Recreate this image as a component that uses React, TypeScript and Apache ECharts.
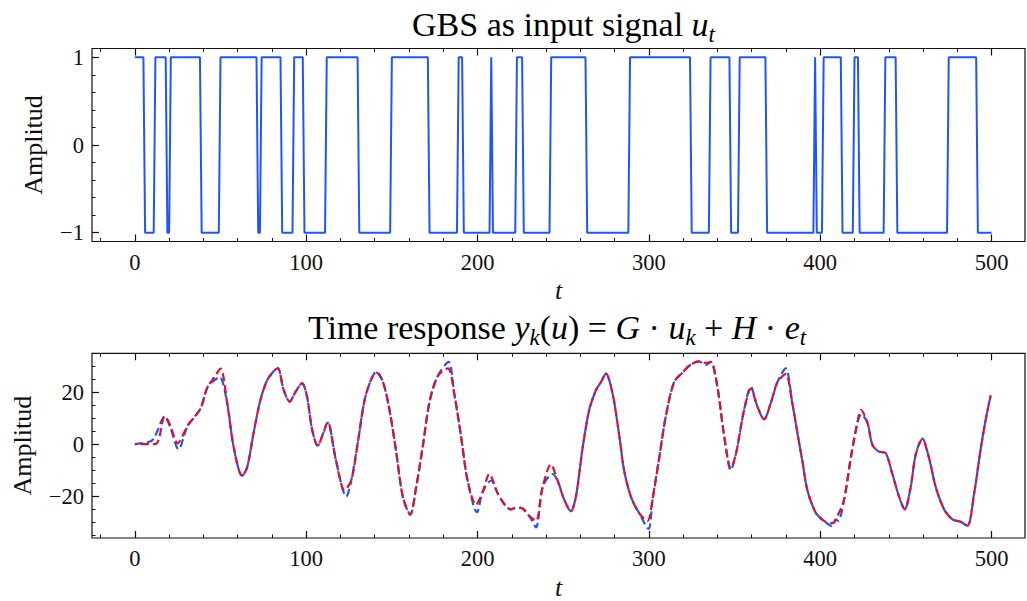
import React, { useEffect, useRef } from "react";
import * as echarts from "echarts";

// ---------- data ----------
// GBS input signal: vertices of the polyline (t, u)
const gbsT = [0, 5, 6, 11, 12, 18, 19, 20, 21, 38, 39, 49, 50, 71, 72, 73, 74, 85, 86, 92, 93, 98, 99, 111, 112, 130, 131, 149, 150, 171, 172, 188, 189, 191, 192, 207, 208, 209, 222, 223, 226, 227, 242, 243, 263, 264, 288, 289, 324, 325, 335, 336, 347, 348, 352, 353, 368, 369, 396, 397, 398, 401, 402, 412, 413, 419, 420, 422, 423, 437, 438, 444, 445, 474, 475, 491, 492, 500];
const gbsU = [1, 1, -1, -1, 1, 1, -1, -1, 1, 1, -1, -1, 1, 1, -1, -1, 1, 1, -1, -1, 1, 1, -1, -1, 1, 1, -1, -1, 1, 1, -1, -1, 1, 1, -1, -1, 1, -1, -1, 1, 1, -1, -1, 1, 1, -1, -1, 1, 1, -1, -1, 1, 1, -1, -1, 1, 1, -1, -1, 1, -1, -1, 1, 1, -1, -1, 1, 1, -1, -1, 1, 1, -1, -1, 1, 1, -1, -1];

// Time response, red dashed curve
const redT = [0, 12, 17.5, 20.4, 25, 30.8, 34.6, 38.5, 42.4, 46.3, 50, 53.9, 57.8, 62.6, 65.5, 69.4, 73.3, 77.2, 81.1, 83.4, 86.9, 90.4, 93.7, 97.6, 100.5, 103.4, 106.7, 110.2, 112.5, 113.7, 117.5, 122.4, 126.3, 130.2, 134.1, 138, 140.9, 144.7, 148.6, 152.5, 156.4, 160.7, 164.2, 168.1, 172, 176.8, 182.7, 186.4, 190.3, 194.2, 199.1, 203, 206.9, 211.8, 216.6, 219.5, 222, 225.4, 230.2, 234.1, 238, 242.8, 246.7, 250.6, 254.5, 257.4, 261.3, 265.2, 269.1, 272, 274.9, 278.8, 282.7, 285.6, 289.5, 294.3, 299.2, 302.1, 306, 309.9, 314.7, 319.6, 324.5, 329.3, 333.2, 336.1, 340, 343.9, 347.8, 350.7, 355.6, 359.5, 363.3, 367.2, 371.1, 375, 379.8, 383.7, 387, 389.6, 392.5, 397.4, 402.2, 407.1, 410, 413.9, 417.8, 421.7, 423.7, 427.5, 430.5, 434.3, 438.2, 442.1, 446, 449.3, 452.8, 455.7, 459.6, 463.5, 467.4, 472.3, 477.1, 482, 485.9, 489.8, 493.7, 496.6, 499.5];
const redY = [0, 0, 10.8, 7.6, 0.3, 7.1, 10.2, 13.9, 21.9, 25.6, 29, 15.7, -1.6, -12.2, -9, 4.6, 17, 24.5, 28.1, 29.1, 20.7, 16.3, 20, 23.4, 18.2, 5.8, -0.6, 4.6, 8.3, 7.1, -6.6, -17.7, -14, 0.9, 17, 25, 27.5, 24.1, 13.2, -2.9, -20.2, -27, -16.5, -0.6, 16.3, 26.2, 29.1, 19.4, 3.3, -14, -23.3, -18.4, -11.5, -19, -23.9, -25.1, -24.5, -24.5, -27.7, -29.5, -16.5, -7.8, -14, -21.4, -25.8, -20.2, -1.6, 13.2, 20.7, 23.8, 27.1, 19.4, 3.3, -10.3, -20.2, -26.5, -29.5, -21.4, -5.4, 10.8, 23.8, 27.5, 30.6, 31.8, 31.2, 31.6, 21.9, 3.3, -9.1, -4.1, 13.2, 21.3, 14.5, 9.5, 15.7, 23.8, 26.9, 15.7, 3, -6.6, -17.7, -26.4, -29.5, -30.4, -27.7, -21.4, -5.4, 8.3, 13.2, 8.3, -0.4, -2.9, -3.5, -11.5, -20.2, -25.1, -16.5, -4.1, 1.9, -5.4, -16.5, -25.1, -28.9, -29.9, -31.4, -19, -1.6, 9.5, 18.8];

// Time response, blue dashed curve
const blueT = [0, 8, 11, 17.5, 20.4, 25.5, 30.8, 34.6, 38.5, 42.4, 46.3, 49.5, 53.9, 57.8, 62.6, 65.5, 69.4, 73.3, 77.2, 81.1, 83.4, 86.9, 90.4, 93.7, 97.6, 100.5, 103.4, 106.7, 110.2, 112.5, 113.7, 117.5, 123.4, 126.3, 130.2, 134.1, 138, 140.9, 144.7, 148.6, 152.5, 156.4, 160.7, 164.2, 168.1, 172, 176.8, 183.1, 186.4, 190.3, 194.2, 199.7, 203, 207.9, 211.8, 216.6, 219.5, 222, 225.4, 230.2, 234.1, 238, 243.8, 246.7, 250.6, 254.5, 257.4, 261.3, 265.2, 269.1, 272, 274.9, 278.8, 282.7, 285.6, 289.5, 294.3, 299.8, 302.1, 306, 309.9, 314.7, 319.6, 324.5, 329.3, 333.2, 336.1, 340, 343.9, 347.8, 350.7, 355.6, 359.5, 363.3, 367.2, 371.1, 375, 379.8, 383.7, 387, 389.6, 392.5, 397.4, 402.2, 407.1, 409, 410.5, 413.9, 417.8, 421.7, 424, 427.5, 430.5, 434.3, 438.2, 442.1, 446, 449.3, 452.8, 455.7, 459.6, 463.5, 467.4, 472.3, 477.1, 482, 485.9, 489.8, 493.7, 496.6, 499.5];
const blueY = [0, 0.8, 2, 10.5, 7, -2, 7.1, 10.2, 13.9, 21.9, 24.5, 25.8, 15.7, -1.6, -12.2, -9, 4.6, 17, 24.5, 28.1, 29.3, 20.7, 16.3, 20, 23.4, 18.2, 5.8, -0.6, 4.6, 8.3, 7.1, -6.6, -20.2, -14, 0.9, 17, 25, 27.8, 24.1, 13.2, -2.9, -20.2, -27.2, -16.5, -0.6, 16.3, 26.2, 31.6, 19.4, 3.3, -14, -26.2, -18.4, -14, -19, -23.9, -25.1, -24.5, -24.5, -27.7, -32, -16.5, -11.5, -14, -21.4, -25.8, -20.2, -1.6, 13.2, 20.7, 23.8, 27.1, 19.4, 3.3, -10.3, -20.2, -26.5, -32.6, -21.4, -5.4, 10.8, 23.8, 27.5, 30.6, 31.8, 30.4, 31.6, 21.9, 3.3, -10, -4.1, 13.2, 22, 14.5, 9.5, 15.7, 23.8, 29.1, 15.7, 3, -6.6, -17.7, -26.4, -29.5, -31.6, -29, -29.5, -21.4, -5.4, 8.3, 11.4, 8.3, -0.4, -2.9, -3.5, -11.5, -20.2, -25.1, -16.5, -4.1, 2.2, -5.4, -16.5, -25.1, -28.9, -29.9, -31.4, -19, -1.6, 9.5, 18.8];

// tick values
const xMajor = [0, 100, 200, 300, 400, 500];
const xMinor = [-20, 20, 40, 60, 80, 120, 140, 160, 180, 220, 240, 260, 280, 320, 340, 360, 380, 420, 440, 460, 480];
const uMajor = [-1, 0, 1];
const uMinor = [-0.8, -0.6, -0.4, -0.2, 0.2, 0.4, 0.6, 0.8];
const yMajor = [-20, 0, 20];
const yMinor = [-35, -30, -25, -15, -10, -5, 5, 10, 15, 25, 30];

const FONT = "'Liberation Serif', 'DejaVu Serif', serif";
const BLUE = "#1f55ff";
const RED = "#e01030";
const INK = "#111";

const fmt = (v: number) => (v < 0 ? "\u2212" + Math.abs(v) : String(v));

function xAxesFor(grid: number, nameGap: number) {
  const base = {
    type: "value",
    gridIndex: grid,
    min: -25,
    max: 519.5,
    splitLine: { show: false },
    axisLine: { show: false, onZero: false },
  };
  return [
    {
      ...base,
      position: "bottom",
      axisTick: { show: true, inside: true, length: 7, customValues: xMajor, lineStyle: { color: INK, width: 1.2 } },
      axisLabel: { show: true, customValues: xMajor, margin: 9, fontSize: 22.5, fontFamily: FONT, color: INK, formatter: fmt },
      name: "t",
      nameLocation: "middle",
      nameGap,
      nameTextStyle: { fontFamily: FONT, fontStyle: "italic", fontSize: 26, color: INK },
    },
    {
      ...base,
      position: "bottom",
      axisTick: { show: true, inside: true, length: 3.5, customValues: xMinor, lineStyle: { color: INK, width: 1 } },
      axisLabel: { show: false },
    },
    {
      ...base,
      position: "top",
      axisTick: { show: true, inside: true, length: 7, customValues: xMajor, lineStyle: { color: INK, width: 1.2 } },
      axisLabel: { show: false },
    },
    {
      ...base,
      position: "top",
      axisTick: { show: true, inside: true, length: 3.5, customValues: xMinor, lineStyle: { color: INK, width: 1 } },
      axisLabel: { show: false },
    },
  ];
}

function yAxesFor(grid: number, min: number, max: number, major: number[], minor: number[], nameGap: number) {
  const base = {
    type: "value",
    gridIndex: grid,
    min,
    max,
    position: "left",
    splitLine: { show: false },
    axisLine: { show: false, onZero: false },
  };
  return [
    {
      ...base,
      axisTick: { show: true, inside: true, length: 7, customValues: major, lineStyle: { color: INK, width: 1.2 } },
      axisLabel: { show: true, customValues: major, margin: 8, fontSize: 22.5, fontFamily: FONT, color: INK, formatter: fmt },
      name: "Amplitud",
      nameLocation: "middle",
      nameGap,
      nameTextStyle: { fontFamily: FONT, fontSize: 26, color: INK },
    },
    {
      ...base,
      axisTick: { show: true, inside: true, length: 3.5, customValues: minor, lineStyle: { color: INK, width: 1 } },
      axisLabel: { show: false },
    },
  ];
}

const titleRich = {
  n: { fontFamily: FONT, fontSize: 34, color: INK, lineHeight: 44 },
  it: { fontFamily: FONT, fontSize: 34, fontStyle: "italic", color: INK, lineHeight: 44 },
  sub: { fontFamily: FONT, fontSize: 23, fontStyle: "italic", color: INK, lineHeight: 23, verticalAlign: "bottom" },
};

export default function App() {
  const ref = useRef<HTMLDivElement>(null);

  useEffect(() => {
    document.body.style.margin = "0";
    if (!ref.current) return;
    const chart = echarts.init(ref.current, undefined, { renderer: "svg" });

    const gbsData = gbsT.map((t, i) => [t, gbsU[i]]);
    const redData = redT.map((t, i) => [t, redY[i]]);
    const blueData = blueT.map((t, i) => [t, blueY[i]]);

    chart.setOption({
      animation: false,
      backgroundColor: "#fff",
      grid: [
        { left: 92, top: 48.5, width: 933, height: 193, show: true, borderColor: INK, borderWidth: 1.2, backgroundColor: "transparent" },
        { left: 92, top: 353.3, width: 933, height: 191, show: true, borderColor: INK, borderWidth: 1.2, backgroundColor: "transparent" },
      ],
      xAxis: [...xAxesFor(0, 36), ...xAxesFor(1, 36)],
      yAxis: [
        ...yAxesFor(0, -1.1, 1.1, uMajor, uMinor, 46),
        ...yAxesFor(1, -36.1, 34.9, yMajor, yMinor, 57),
      ],
      graphic: [
        {
          type: "text",
          x: 563.5,
          y: 24,
          style: {
            text: "{n|GBS as input signal }{it|u}{sub|t}",
            rich: titleRich,
            align: "center",
            verticalAlign: "middle",
          },
        },
        {
          type: "text",
          x: 557,
          y: 327,
          style: {
            text: "{n|Time response }{it|y}{sub|k}{n|(}{it|u}{n|) = }{it|G}{n| \u00b7 }{it|u}{sub|k}{n| + }{it|H}{n| \u00b7 }{it|e}{sub|t}",
            rich: titleRich,
            align: "center",
            verticalAlign: "middle",
          },
        },
      ],
      series: [
        {
          type: "line",
          xAxisIndex: 0,
          yAxisIndex: 0,
          data: gbsData,
          symbol: "none",
          lineStyle: { color: BLUE, width: 2 },
        },
        {
          type: "line",
          xAxisIndex: 4,
          yAxisIndex: 2,
          data: blueData,
          symbol: "none",
          smooth: 0.3,
          lineStyle: { color: BLUE, width: 2.2, type: [8, 4] },
        },
        {
          type: "line",
          xAxisIndex: 4,
          yAxisIndex: 2,
          data: redData,
          symbol: "none",
          smooth: 0.3,
          lineStyle: { color: RED, width: 2.2, type: [8, 4], dashOffset: 6 },
        },
      ],
    });

    return () => chart.dispose();
  }, []);

  return <div ref={ref} style={{ width: 1027, height: 601 }} />;
}
